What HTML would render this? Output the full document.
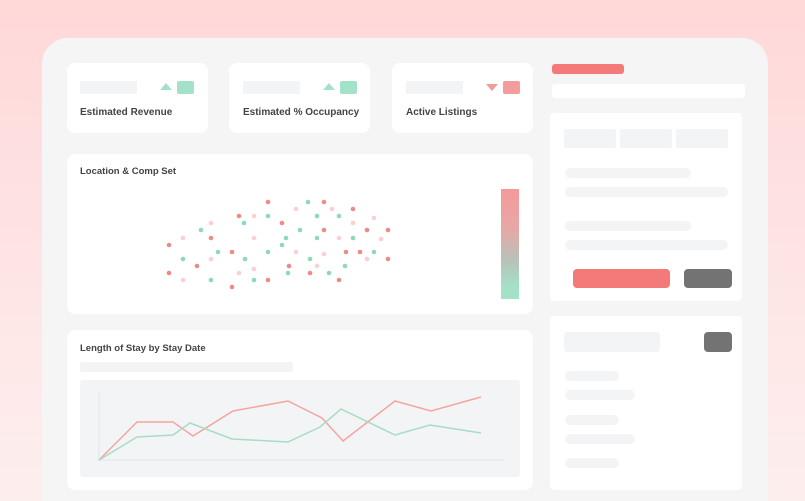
<!DOCTYPE html>
<html style="width:805px;height:501px;overflow:hidden"><head><meta charset="utf-8"><style>
*{margin:0;padding:0;box-sizing:border-box}
body{width:805px;height:501px;overflow:hidden;background:linear-gradient(180deg,#ffd8d8 0%,#fee6e6 60%,#fdeeee 100%);font-family:"Liberation Sans",sans-serif;position:relative}
.a{position:absolute}
.main{left:42px;top:38px;width:726px;height:463px;background:#f5f5f6;border-radius:26px 26px 0 0}
.card{background:#fff;border-radius:8px}
.g{background:#f3f4f6}
.pill{background:#f3f4f6;border-radius:6px}
.t{font-size:10px;font-weight:bold;color:#444}
</style></head><body>
<div class="a main"></div>

<div class="a card" style="left:67px;top:63px;width:141px;height:70px"></div>
<div class="a card" style="left:229px;top:63px;width:141px;height:70px"></div>
<div class="a card" style="left:392px;top:63px;width:141px;height:70px"></div>
<div class="a g" style="left:80px;top:81px;width:57px;height:13px"></div>
<div class="a g" style="left:243px;top:81px;width:57px;height:13px"></div>
<div class="a g" style="left:406px;top:81px;width:57px;height:13px"></div>
<div class="a" style="left:160px;top:83px;width:0;height:0;border-left:6px solid transparent;border-right:6px solid transparent;border-bottom:7px solid #a3e2c8"></div>
<div class="a" style="left:177px;top:81px;width:17px;height:13px;background:#a3e2c8;border-radius:2px"></div>
<div class="a" style="left:323px;top:83px;width:0;height:0;border-left:6px solid transparent;border-right:6px solid transparent;border-bottom:7px solid #a3e2c8"></div>
<div class="a" style="left:340px;top:81px;width:17px;height:13px;background:#a3e2c8;border-radius:2px"></div>
<div class="a" style="left:486px;top:84px;width:0;height:0;border-left:6px solid transparent;border-right:6px solid transparent;border-top:7px solid #f39c9c"></div>
<div class="a" style="left:503px;top:81px;width:17px;height:13px;background:#f39c9c;border-radius:2px"></div>
<div class="a t" style="left:80px;top:107px">Estimated Revenue</div>
<div class="a t" style="left:243px;top:107px">Estimated % Occupancy</div>
<div class="a t" style="left:406px;top:107px">Active Listings</div>

<div class="a card" style="left:67px;top:154px;width:466px;height:160px"></div>
<div class="a t" style="left:80px;top:166px;font-size:9.5px">Location &amp; Comp Set</div>
<div class="a" style="left:501px;top:189px;width:18px;height:110px;background:linear-gradient(180deg,#f49a9a 0%,#e9a6a6 35%,#b8c2b8 65%,#a3e2c8 90%)"></div>
<svg class="a" style="left:0;top:0" width="805" height="501">
<g fill="#f08a8a">
<circle cx="268" cy="202" r="2.3"/><circle cx="324" cy="202" r="2.3"/><circle cx="353" cy="209" r="2.3"/><circle cx="239" cy="216" r="2.3"/><circle cx="282" cy="223" r="2.3"/><circle cx="324" cy="230" r="2.3"/><circle cx="367" cy="230" r="2.3"/><circle cx="388" cy="230" r="2.3"/><circle cx="211" cy="238" r="2.3"/><circle cx="169" cy="245" r="2.3"/><circle cx="232" cy="252" r="2.3"/><circle cx="346" cy="252" r="2.3"/><circle cx="360" cy="252" r="2.3"/><circle cx="388" cy="259" r="2.3"/><circle cx="197" cy="266" r="2.3"/><circle cx="289" cy="266" r="2.3"/><circle cx="169" cy="273" r="2.3"/><circle cx="310" cy="273" r="2.3"/><circle cx="268" cy="280" r="2.3"/><circle cx="339" cy="280" r="2.3"/><circle cx="232" cy="287" r="2.3"/>
</g>
<g fill="#fcd0d0">
<circle cx="296" cy="209" r="2.3"/><circle cx="332" cy="209" r="2.3"/><circle cx="254" cy="216" r="2.3"/><circle cx="211" cy="223" r="2.3"/><circle cx="353" cy="223" r="2.3"/><circle cx="374" cy="218" r="2.3"/><circle cx="183" cy="238" r="2.3"/><circle cx="254" cy="238" r="2.3"/><circle cx="339" cy="238" r="2.3"/><circle cx="381" cy="239" r="2.3"/><circle cx="296" cy="252" r="2.3"/><circle cx="211" cy="259" r="2.3"/><circle cx="324" cy="254" r="2.3"/><circle cx="367" cy="259" r="2.3"/><circle cx="254" cy="269" r="2.3"/><circle cx="317" cy="266" r="2.3"/><circle cx="239" cy="273" r="2.3"/><circle cx="183" cy="280" r="2.3"/>
</g>
<g fill="#8fd9bb">
<circle cx="308" cy="202" r="2.3"/><circle cx="268" cy="216" r="2.3"/><circle cx="317" cy="216" r="2.3"/><circle cx="339" cy="216" r="2.3"/><circle cx="244" cy="223" r="2.3"/><circle cx="201" cy="230" r="2.3"/><circle cx="300" cy="230" r="2.3"/><circle cx="286" cy="238" r="2.3"/><circle cx="317" cy="238" r="2.3"/><circle cx="353" cy="238" r="2.3"/><circle cx="282" cy="245" r="2.3"/><circle cx="218" cy="252" r="2.3"/><circle cx="268" cy="252" r="2.3"/><circle cx="374" cy="252" r="2.3"/><circle cx="183" cy="259" r="2.3"/><circle cx="245" cy="259" r="2.3"/><circle cx="310" cy="259" r="2.3"/><circle cx="345" cy="266" r="2.3"/><circle cx="288" cy="273" r="2.3"/><circle cx="329" cy="273" r="2.3"/><circle cx="211" cy="280" r="2.3"/><circle cx="254" cy="280" r="2.3"/>
</g>
</svg>

<div class="a card" style="left:67px;top:330px;width:466px;height:160px"></div>
<div class="a t" style="left:80px;top:343px;font-size:9.5px">Length of Stay by Stay Date</div>
<div class="a g" style="left:80px;top:362px;width:213px;height:10px;border-radius:2px"></div>
<div class="a g" style="left:80px;top:380px;width:440px;height:97px;border-radius:3px"></div>
<svg class="a" style="left:0;top:0" width="805" height="501">
<line x1="99" y1="392" x2="99" y2="460" stroke="#e3e4e6" stroke-width="1"/>
<line x1="97" y1="460" x2="503" y2="460" stroke="#e3e4e6" stroke-width="1"/>
<polyline fill="none" stroke="#f4a5a0" stroke-width="1.5" points="99,460 137,422 173,422 193,436 233,411 288,401 322,418 343,441 395,401 431,411 481,397"/>
<polyline fill="none" stroke="#a8dcc4" stroke-width="1.5" points="99,460 137,437 173,435 190,423 232,439 288,442 320,427 341,409 395,435 430,425 481,433"/>
</svg>

<div class="a" style="left:552px;top:64px;width:72px;height:10px;background:#f47a7a;border-radius:3px"></div>
<div class="a" style="left:552px;top:84px;width:193px;height:14px;background:#fff;border-radius:3px"></div>
<div class="a card" style="left:550px;top:113px;width:192px;height:188px;border-radius:4px"></div>
<div class="a g" style="left:564px;top:129px;width:52px;height:19px;border-radius:2px"></div>
<div class="a g" style="left:620px;top:129px;width:52px;height:19px;border-radius:2px"></div>
<div class="a g" style="left:676px;top:129px;width:52px;height:19px;border-radius:2px"></div>
<div class="a pill" style="left:565px;top:168px;width:126px;height:10px"></div>
<div class="a pill" style="left:565px;top:187px;width:163px;height:10px"></div>
<div class="a pill" style="left:565px;top:221px;width:126px;height:10px"></div>
<div class="a pill" style="left:565px;top:240px;width:163px;height:10px"></div>
<div class="a" style="left:573px;top:269px;width:97px;height:19px;background:#f47a7a;border-radius:4px"></div>
<div class="a" style="left:684px;top:269px;width:48px;height:19px;background:#737373;border-radius:4px"></div>

<div class="a card" style="left:550px;top:316px;width:192px;height:174px;border-radius:4px"></div>
<div class="a g" style="left:564px;top:332px;width:96px;height:20px;border-radius:3px"></div>
<div class="a" style="left:704px;top:332px;width:28px;height:20px;background:#737373;border-radius:4px"></div>
<div class="a pill" style="left:565px;top:371px;width:54px;height:10px"></div>
<div class="a pill" style="left:565px;top:390px;width:70px;height:10px"></div>
<div class="a pill" style="left:565px;top:415px;width:54px;height:10px"></div>
<div class="a pill" style="left:565px;top:434px;width:70px;height:10px"></div>
<div class="a pill" style="left:565px;top:458px;width:54px;height:10px"></div>
</body></html>
